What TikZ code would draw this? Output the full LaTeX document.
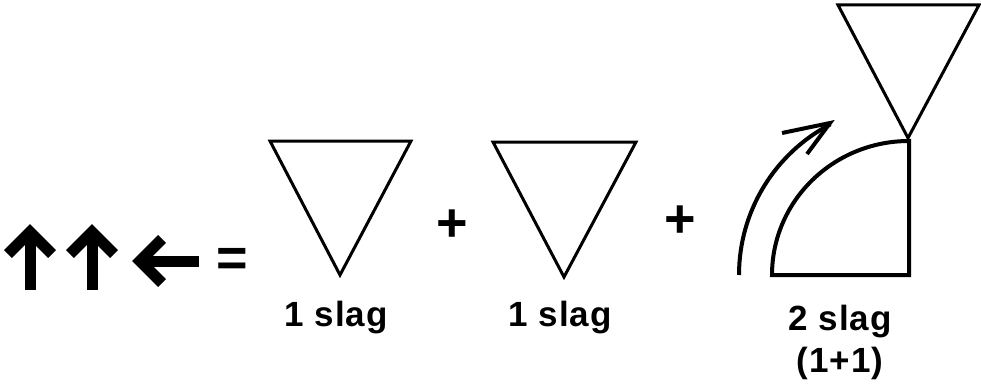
\documentclass[tikz,border=0pt]{standalone}
\usepackage{fontspec}
\setmainfont{Liberation Sans}[LetterSpace=3]
\newfontfamily\signfont{Liberation Sans}
\begin{document}
\begin{tikzpicture}[x=1pt,y=-1pt,
  tri/.style={draw=black,line width=3pt,line join=miter},
  thick4/.style={draw=black,line width=4pt},
  bigarrow/.style={draw=black,line width=11pt,line join=miter},
  lbl/.style={font=\bfseries\fontsize{35}{42}\selectfont,inner sep=0pt,align=center},
  sign/.style={font=\signfont\bfseries\fontsize{54}{54}\selectfont,inner sep=0pt}]
\useasboundingbox (0,0) rectangle (981,385);
% left arrows
\draw[bigarrow] (30,290) -- (30,232);
\draw[bigarrow] (8,254) -- (30,232) -- (52,254);
\draw[bigarrow] (92,290) -- (92,232);
\draw[bigarrow] (70,254) -- (92,232) -- (114,254);
\draw[bigarrow] (199,261) -- (140,261);
\draw[bigarrow] (162,239) -- (140,261) -- (162,283);
\node[sign] (eq) at (232,262) {=};
% triangles
\draw[tri] (270,141) -- (411,141) -- (340,275) -- cycle;
\node[lbl] (l1) at (336,318) {1 slag};
\node[sign] (p1) at (452,226) {+};
\draw[tri] (493,142) -- (636,142) -- (564,277) -- cycle;
\node[lbl] (l2) at (560,318) {1 slag};
\node[sign] (p2) at (680,222) {+};
% right figure
\draw[tri] (838,5) -- (979,5) -- (908,138) -- cycle;
\draw[thick4,line join=miter] (909,275) -- (909,141) arc[start angle=-90,end angle=-180,x radius=137,y radius=134] -- cycle;
\coordinate (c) at (909,275);
\coordinate (tip) at (830,123);
\draw[thick4] (739,275) arc[start angle=-180,end angle=-117.5,radius=170];
\draw[thick4] (782,133) -- (tip) -- (807,154);
\node[lbl] (l3) at (840,342) {2 slag\\(1+1)};
\end{tikzpicture}
\end{document}
